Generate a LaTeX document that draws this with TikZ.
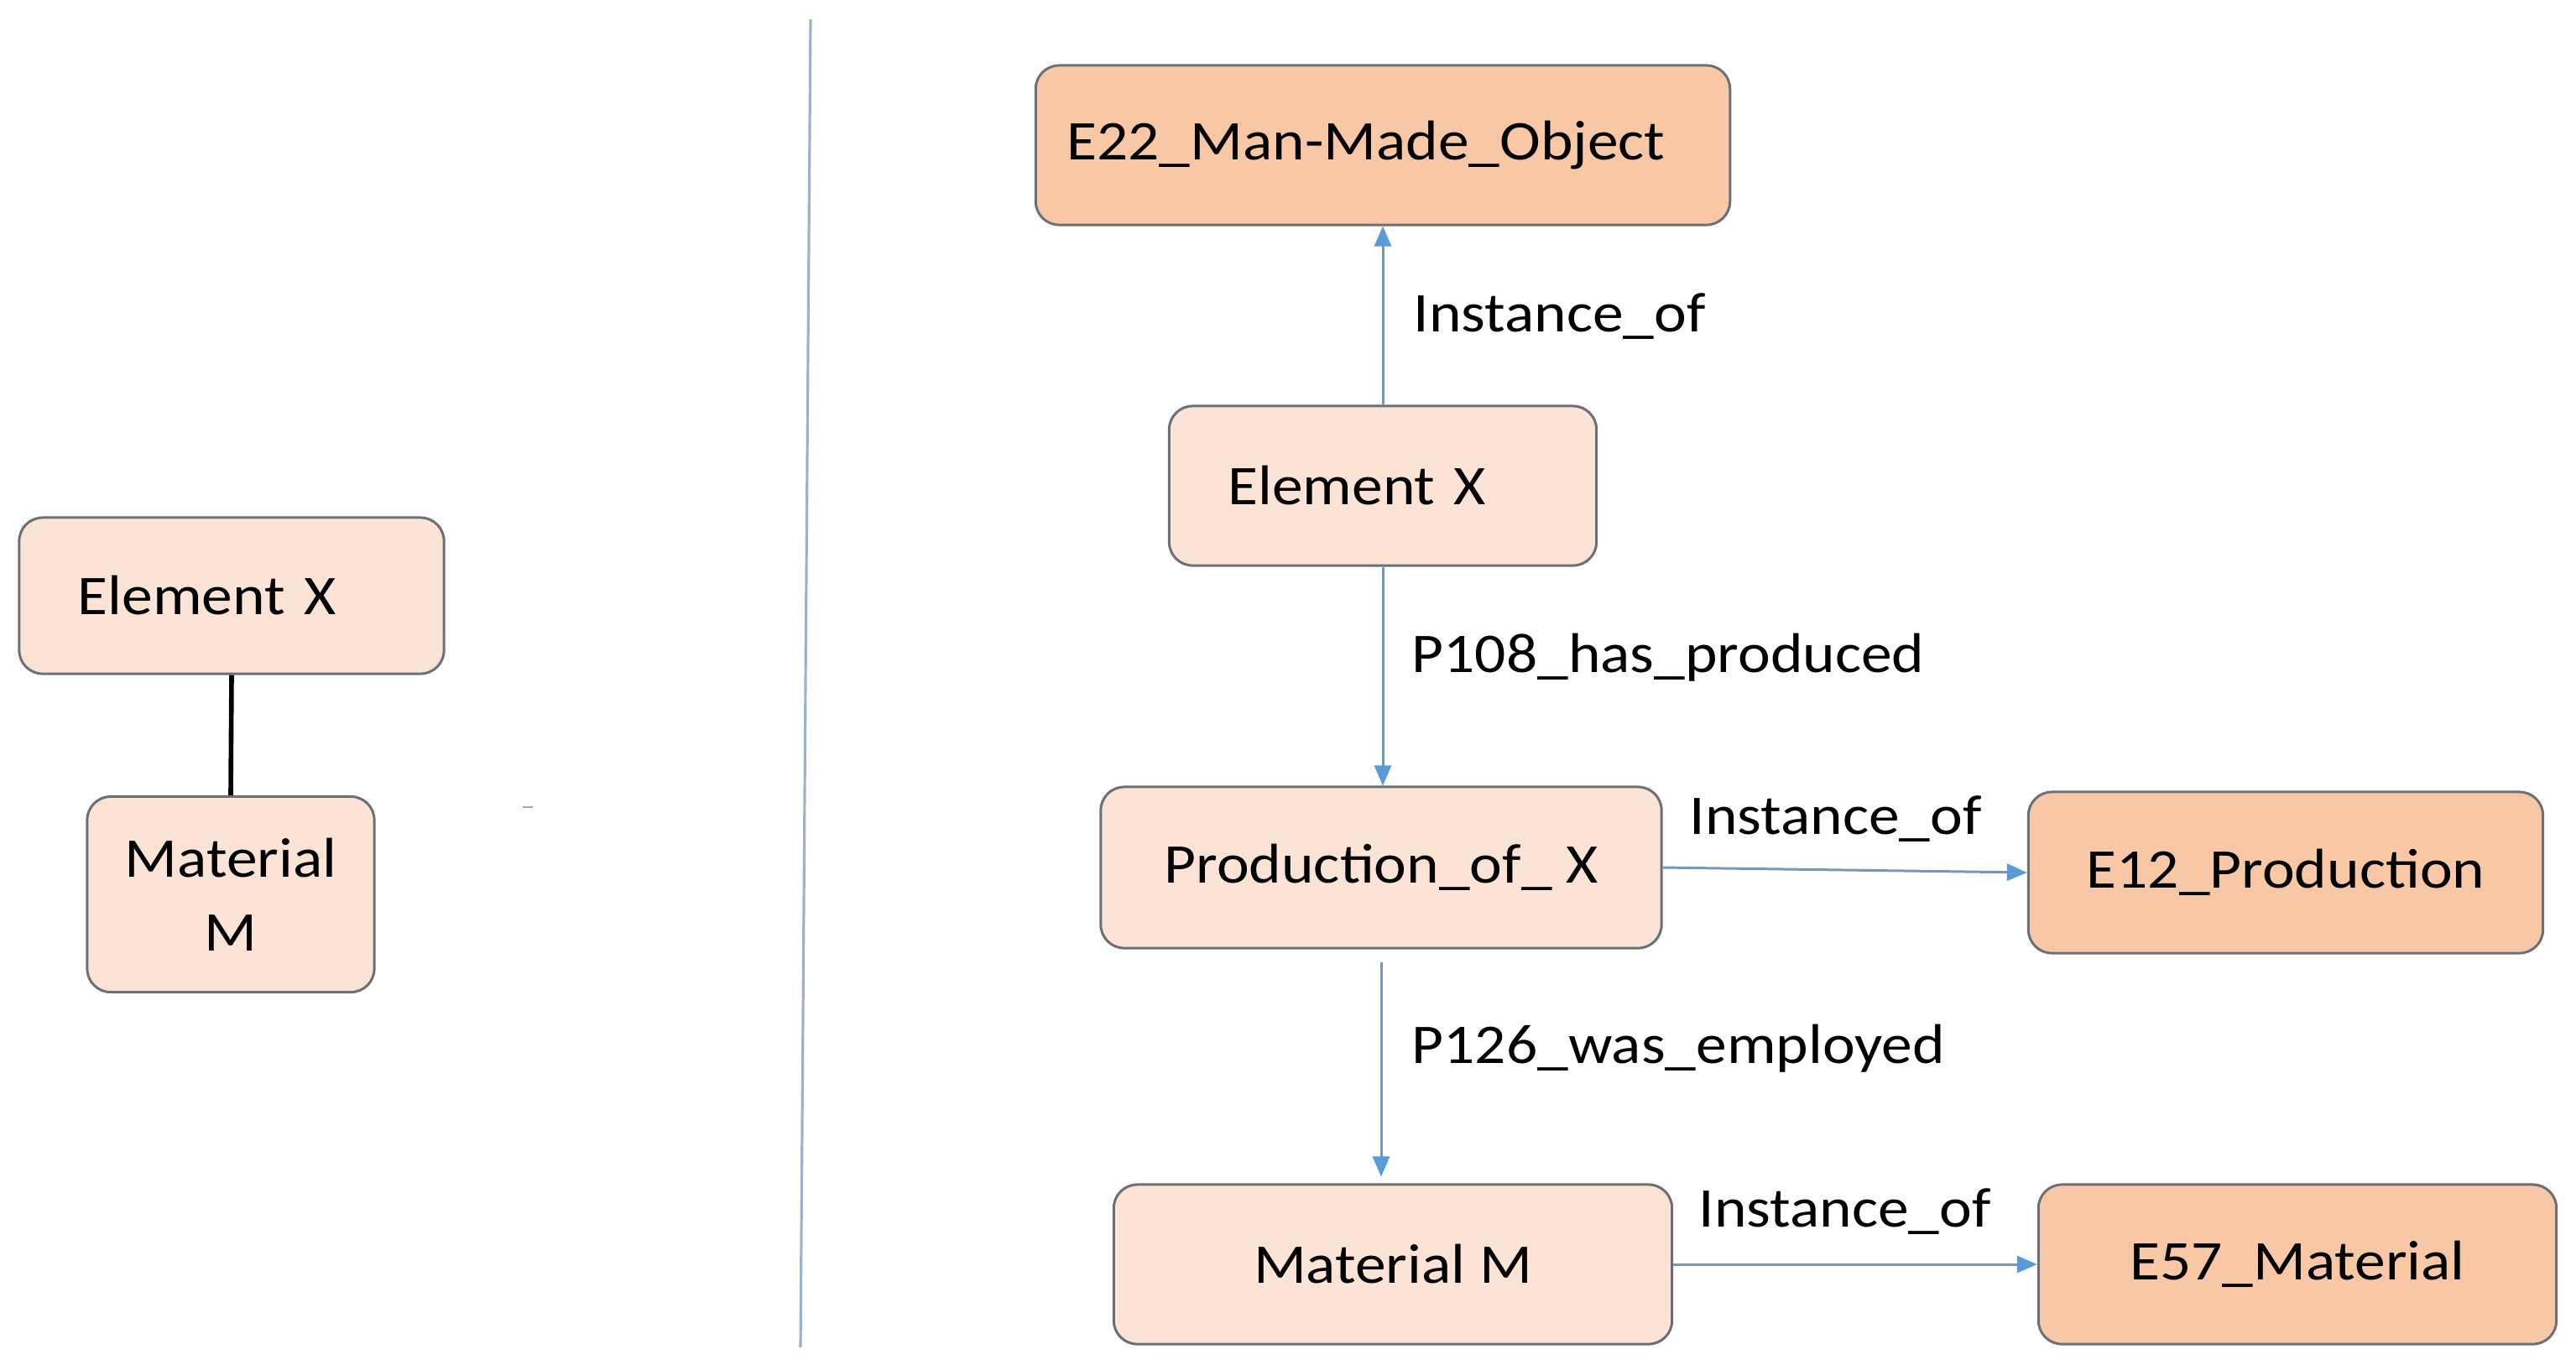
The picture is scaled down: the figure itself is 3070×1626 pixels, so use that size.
\documentclass[tikz,border=0pt]{standalone}
\usepackage{fontspec}
\setmainfont[FakeStretch=1.1]{Carlito}
\usetikzlibrary{arrows.meta}
\definecolor{lightfill}{HTML}{FBE4D5}
\definecolor{darkfill}{HTML}{F7C7A6}
\definecolor{bordergray}{HTML}{6B7078}
\definecolor{arrowline}{HTML}{7597BE}
\definecolor{arrowtip}{HTML}{5B9BD5}
\definecolor{divider}{HTML}{9DB2CA}
\begin{document}
\begin{tikzpicture}[x=0.01cm,y=-0.01cm,
  font=\fontsize{19pt}{25pt}\selectfont,
  box/.style={draw=bordergray, line width=0.85pt, rounded corners=0.28cm, inner sep=0pt, align=center},
  lightbox/.style={box, fill=lightfill},
  darkbox/.style={box, fill=darkfill},
  rel/.style={draw=arrowline, line width=0.85pt, -{Triangle[length=0.24cm,width=0.2cm,fill=arrowtip,color=arrowtip]}},
  lbl/.style={anchor=base west, inner sep=0pt}
]
\useasboundingbox (0,0) rectangle (3070,1626);
\fill[white] (0,0) rectangle (3070,1626);

% divider
\coordinate (dtop) at (966,23);
\coordinate (dbot) at (954,1606);
\draw[divider, line width=0.9pt] (dtop) -- (dbot);

% stray mark
\coordinate (sm1) at (623,962);
\coordinate (sm2) at (635,962);
\draw[gray!70, line width=0.6pt] (sm1) -- (sm2);

% left part
\node[lightbox, minimum width=5.06cm, minimum height=1.86cm, text width=3.66cm, align=left, inner xsep=0.7cm] (lex) at (276,710) {Element X};
\node[lightbox, minimum width=3.42cm, minimum height=2.33cm] (lmat) at (275,1066) {Material\\M};
\draw[black, line width=1.6pt] (lex.south) -- (lmat.north);

% right part
\node[darkbox, minimum width=8.27cm, minimum height=1.90cm] (e22) at (1648,173) {\hspace*{-0.4cm}E22\_Man-Made\_Object};
\node[lightbox, minimum width=5.09cm, minimum height=1.90cm, text width=3.69cm, align=left, inner xsep=0.7cm] (rex) at (1648,579) {Element X};
\node[lightbox, minimum width=6.68cm, minimum height=1.92cm] (prod) at (1646,1034) {Production\_of\_ X};
\node[darkbox, minimum width=6.13cm, minimum height=1.92cm] (e12) at (2724,1040) {E12\_Production};
\node[lightbox, minimum width=6.65cm, minimum height=1.90cm] (rmat) at (1660,1507) {Material M};
\node[darkbox, minimum width=6.17cm, minimum height=1.90cm] (e57) at (2738,1507) {E57\_Material};

\draw[rel] (rex.north) -- (e22.south);
\draw[rel] (rex.south) -- (rex.south |- prod.north);
\draw[rel] ([yshift=-0.15cm]prod.south) -- ([yshift=0.08cm]prod.south |- rmat.north);
\draw[rel] (prod.east) -- (e12.west);
\draw[rel] (rmat.east) -- (e57.west);

% labels
\node[lbl] (l1) at (1684,395) {Instance\_of};
\node[lbl] (l2) at (1682,801) {P108\_has\_produced};
\node[lbl] (l3) at (2013,994) {Instance\_of};
\node[lbl] (l4) at (1682,1267) {P126\_was\_employed};
\node[lbl] (l5) at (2024,1462) {Instance\_of};
\end{tikzpicture}
\end{document}
